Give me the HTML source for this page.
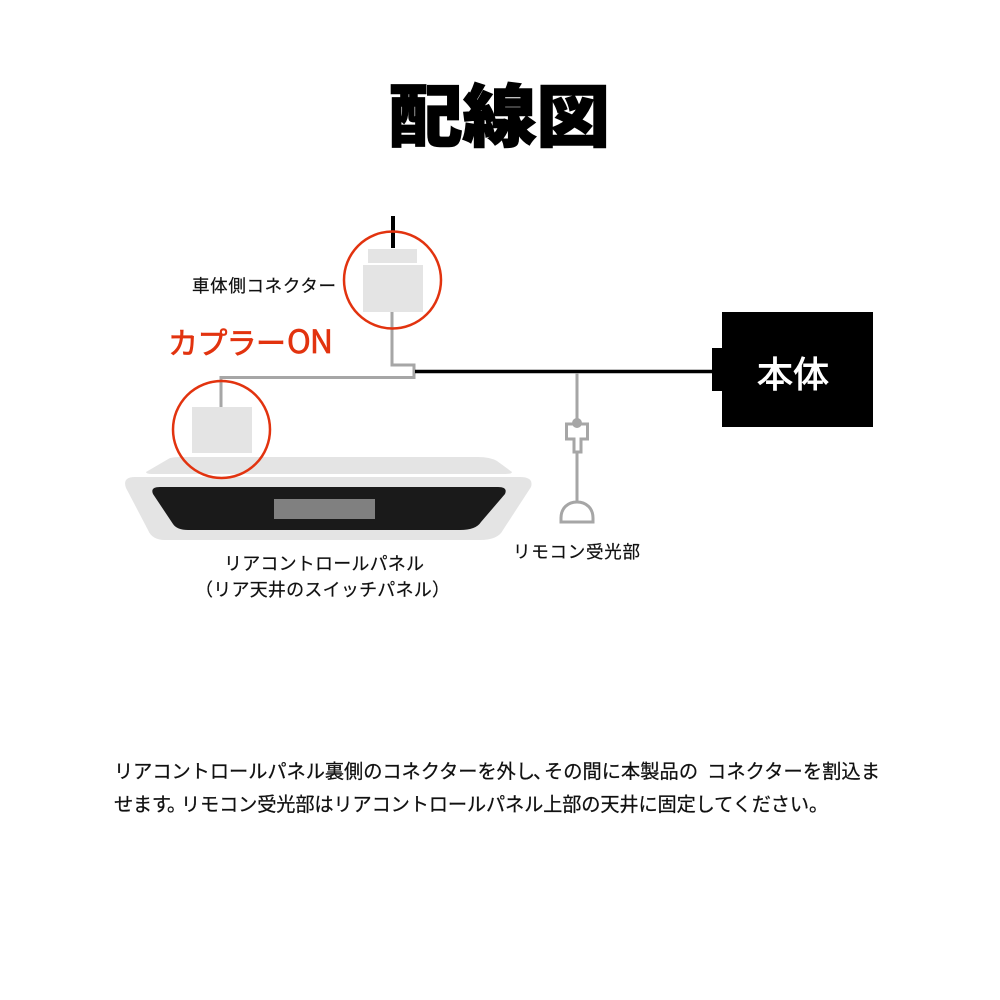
<!DOCTYPE html>
<html lang="ja"><head><meta charset="utf-8"><title>配線図</title>
<style>html,body{margin:0;padding:0;background:#fff}svg{display:block}
text{font-family:"Noto Sans CJK JP","Liberation Sans",sans-serif}
.b{font-size:19.2px;fill:#111;stroke:#111;stroke-width:.25px}
.l{fill:#111;stroke:#111;stroke-width:.2px}</style></head>
<body>
<svg xmlns="http://www.w3.org/2000/svg" width="1000" height="1000" viewBox="0 0 1000 1000">
<rect width="1000" height="1000" fill="#fff"/>
<text x="389" y="141" font-size="68" font-weight="900" textLength="221" lengthAdjust="spacingAndGlyphs" stroke="#000" stroke-width="1.500">配線図</text>

<path d="M146 472 L170 458 Q174 457 180 457 H478 Q490 457 497 461 L512 472 Q512 474 505 474 H152 Q146 474 146 472Z" fill="#e4e4e4"/>
<path d="M135 477 H520 Q534 477 531 487 L503 530 Q498 540 480 540 H165 Q152 540 148 530 L126 488 Q122 477 135 477Z" fill="#e4e4e4"/>
<path d="M160 487 H498 Q508 487 505 494 L481 522 Q476 530 460 530 H188 Q177 530 173 524 L153 494 Q150 487 160 487Z" fill="#1a1a1a"/>
<rect x="274" y="499" width="101" height="20" fill="#808080"/>

<rect x="368" y="249" width="49" height="14" fill="#e4e4e4"/>
<rect x="363" y="265" width="60" height="47" fill="#e4e4e4"/>
<rect x="192" y="407" width="60" height="46" fill="#e4e4e4"/>

<path d="M393 216 V248" stroke="#000" stroke-width="4" fill="none"/>
<path d="M392 312 V365 H414 V377.500 H221 V407" stroke="#a6a6a6" stroke-width="3" fill="none"/>
<path d="M415 371.500 H713" stroke="#000" stroke-width="3.500" fill="none"/>

<circle cx="392.500" cy="280" r="48.500" fill="none" stroke="#e2330f" stroke-width="2.500"/>
<circle cx="221.500" cy="429.500" r="48.500" fill="none" stroke="#e2330f" stroke-width="2.500"/>

<rect x="722" y="312" width="151" height="115" fill="#000"/>
<rect x="712" y="348" width="11" height="43" fill="#000"/>
<text x="757" y="387" font-size="36" fill="#fff" stroke="#fff" stroke-width=".9" textLength="72">本体</text>

<path d="M577 373 V420 M577 453 V501" stroke="#a6a6a6" stroke-width="3" fill="none"/>
<circle cx="577" cy="423" r="5" fill="#a6a6a6"/>
<path d="M566.500 424 H587.500 V439 H581 V452 H574 V439 H566.500Z" fill="none" stroke="#a6a6a6" stroke-width="3"/>
<path d="M561 522 V518 C561 508 568 502 577 502 C586 502 593 508 593 518 V522Z" fill="none" stroke="#a6a6a6" stroke-width="3"/>

<text class="l" x="192" y="292" font-size="17.500" textLength="144">車体側コネクター</text>
<text x="168" y="354" font-size="30" fill="#e2330f" stroke="#e2330f" stroke-width=".7" textLength="118">カプラー</text>
<text x="287" y="353" font-size="32" fill="#e2330f" stroke="#e2330f" stroke-width=".7" textLength="46">ON</text>
<text class="l" x="224" y="570" font-size="18" textLength="200">リアコントロールパネル</text>
<text class="l" x="195" y="596" font-size="18" textLength="255">（リア天井のスイッチパネル）</text>
<text class="l" x="513" y="558" font-size="17.500" textLength="127">リモコン受光部</text>

<text class="b" x="114" y="778" textLength="421">リアコントロールパネル裏側のコネクターを外し</text>
<text class="b" x="533" y="778">、</text>
<text class="b" x="544" y="778" textLength="154">その間に本製品の</text>
<text class="b" x="707" y="778" textLength="173">コネクターを割込ま</text>
<text class="b" x="114" y="811" textLength="57">せます</text>
<text class="b" x="167" y="811">。</text>
<text class="b" x="181" y="811" textLength="628">リモコン受光部はリアコントロールパネル上部の天井に固定してください</text>
<text class="b" x="809" y="811">。</text>
</svg>
</body></html>
